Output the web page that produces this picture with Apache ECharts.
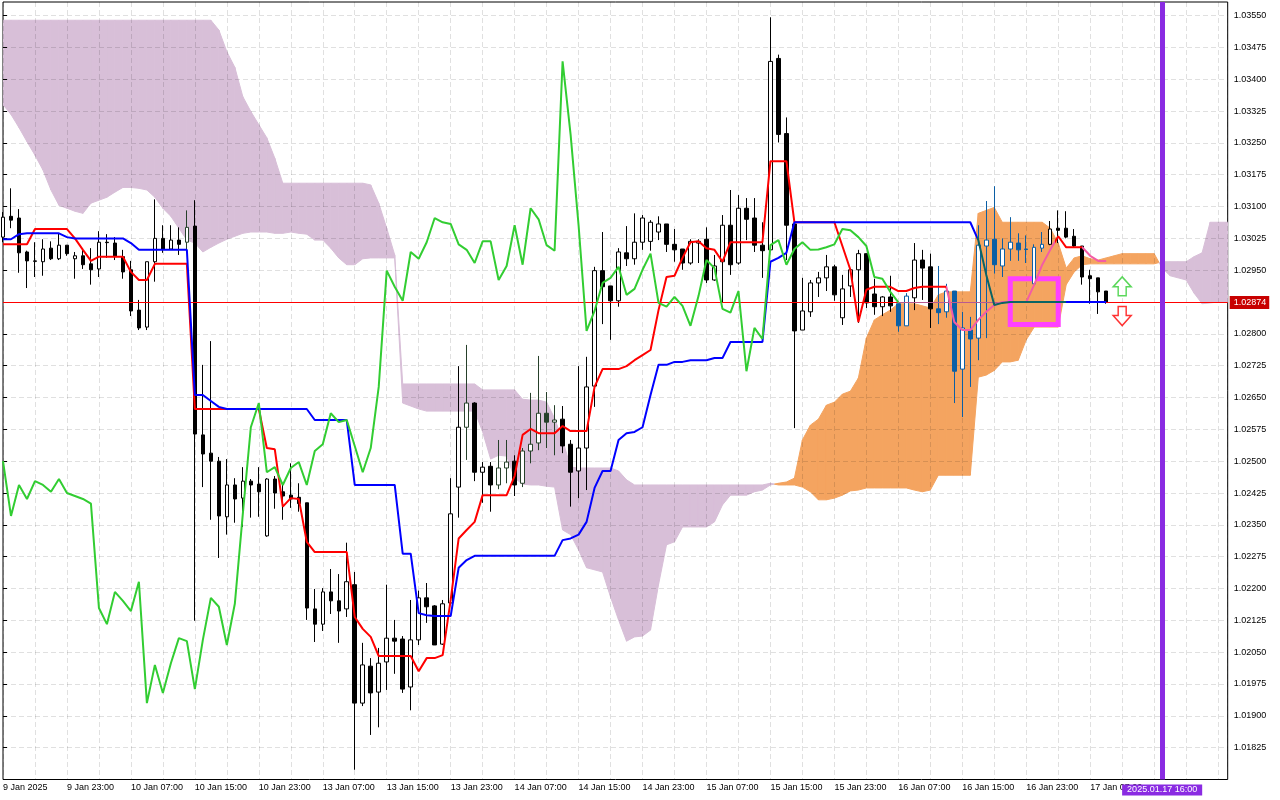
<!DOCTYPE html>
<html><head><meta charset="utf-8">
<style>html,body{margin:0;padding:0;background:#fff}#c{width:1280px;height:800px}</style>
<script src="https://cdn.jsdelivr.net/npm/echarts@6/dist/echarts.min.js"></script>
</head><body><div id="c"></div>
<script>
const xTickLabels=["9 Jan 2025","9 Jan 23:00","10 Jan 07:00","10 Jan 15:00","10 Jan 23:00","13 Jan 07:00","13 Jan 15:00","13 Jan 23:00","14 Jan 07:00","14 Jan 15:00","14 Jan 23:00","15 Jan 07:00","15 Jan 15:00","15 Jan 23:00","16 Jan 07:00","16 Jan 15:00","16 Jan 23:00","17 Jan 07:00"];
const yTicks=[1.03550,1.03475,1.03400,1.03325,1.03250,1.03175,1.03100,1.03025,1.02950,1.02875,1.02800,1.02725,1.02650,1.02575,1.02500,1.02425,1.02350,1.02275,1.02200,1.02125,1.02050,1.01975,1.01900,1.01825];
const opens=[1.03028,1.03077,1.03073,1.02993,1.02972,1.02970,1.03002,1.02977,1.03009,1.02977,
1.02984,1.02965,1.02953,1.03016,1.03014,1.02982,1.02951,1.02856,1.02816,1.02970,
1.03025,1.03000,1.03021,1.03016,1.03054,1.02562,1.02519,1.02500,1.02369,1.02444,
1.02413,1.02453,1.02446,1.02324,1.02458,1.02428,1.02420,1.02415,1.02402,1.02152,
1.02116,1.02192,1.02171,1.02152,1.02209,1.01930,1.02017,1.01956,1.02027,1.02083,
1.02081,1.01968,1.02079,1.02178,1.02159,1.02069,1.02166,1.02439,1.02580,1.02637,
1.02474,1.02488,1.02444,1.02484,1.02500,1.02448,1.02524,1.02543,1.02613,1.02592,
1.02599,1.02540,1.02477,1.02531,1.02677,1.02949,1.02913,1.02878,1.02991,1.02977,
1.03016,1.03018,1.03040,1.03059,1.03011,1.03000,1.02967,1.03014,1.03023,1.02927,
1.02970,1.03056,1.02967,1.03096,1.03073,1.03009,1.02998,1.03449,1.03272,1.03059,
1.02809,1.02852,1.02920,1.02932,1.02958,1.02838,1.02913,1.02951,1.02989,1.02894,
1.02864,1.02887,1.02871,1.02819,1.02885,1.02974,1.02958,1.02859,1.02852,1.02901,
1.02717,1.02809,1.02790,1.03007,1.03023,1.02960,1.03000,1.03014,1.03000,1.02918,
1.03002,1.03011,1.03049,1.03049,1.03030,1.03007,1.02937,1.02932,1.02901];
const closes=[1.03075,1.03068,1.02991,1.02972,1.02971,1.03000,1.02977,1.03009,1.02989,1.02984,
1.02963,1.02951,1.03016,1.03015,1.02982,1.02946,1.02854,1.02814,1.02970,1.03025,
1.03000,1.03021,1.03011,1.03051,1.02564,1.02517,1.02500,1.02371,1.02444,1.02411,
1.02453,1.02444,1.02428,1.02458,1.02425,1.02418,1.02411,1.02400,1.02154,1.02116,
1.02192,1.02171,1.02147,1.02216,1.01930,1.02020,1.01954,1.02024,1.02083,1.02076,
1.01963,1.02079,1.02178,1.02157,1.02067,1.02164,1.02376,1.02580,1.02637,1.02474,
1.02486,1.02444,1.02484,1.02498,1.02444,1.02524,1.02540,1.02613,1.02592,1.02597,
1.02536,1.02474,1.02531,1.02675,1.02949,1.02911,1.02878,1.02993,1.02977,1.03016,
1.03073,1.03063,1.03059,1.03011,1.02998,1.02967,1.03018,1.03018,1.02927,1.02960,
1.03056,1.02963,1.03096,1.03070,1.03009,1.02996,1.03442,1.03270,1.03056,1.02807,
1.02854,1.02920,1.02932,1.02958,1.02892,1.02906,1.02951,1.02989,1.02873,1.02864,
1.02887,1.02866,1.02819,1.02889,1.02974,1.02955,1.02859,1.02850,1.02901,1.02712,
1.02814,1.02788,1.03009,1.03021,1.02963,1.03000,1.03016,1.02998,1.02999,1.03004,
1.03011,1.03047,1.03044,1.03028,1.03007,1.02934,1.02930,1.02899,1.02874];
const lows=[1.03016,1.03049,1.02944,1.02908,1.02934,1.02937,1.02974,1.02974,1.02984,1.02930,
1.02953,1.02916,1.02934,1.02979,1.02974,1.02930,1.02842,1.02809,1.02809,1.02923,
1.02991,1.02998,1.02986,1.02998,1.02124,1.02439,1.02362,1.02272,1.02327,1.02355,
1.02345,1.02367,1.02369,1.02322,1.02388,1.02362,1.02390,1.02381,1.02126,1.02074,
1.02100,1.02140,1.02072,1.02133,1.01773,1.01923,1.01855,1.01873,1.01961,1.01999,
1.01954,1.01913,1.02067,1.02119,1.02067,1.02067,1.02161,1.02367,1.02503,1.02453,
1.02402,1.02381,1.02434,1.02448,1.02418,1.02439,1.02495,1.02526,1.02531,1.02514,
1.02519,1.02393,1.02413,1.02432,1.02628,1.02823,1.02786,1.02864,1.02960,1.02963,
1.02998,1.02996,1.03021,1.02993,1.02970,1.02951,1.02963,1.02967,1.02920,1.02925,
1.02873,1.02939,1.02963,1.03021,1.02993,1.02932,1.02998,1.03251,1.02974,1.02578,
1.02809,1.02840,1.02887,1.02901,1.02878,1.02821,1.02887,1.02826,1.02861,1.02845,
1.02842,1.02852,1.02805,1.02819,1.02856,1.02880,1.02814,1.02823,1.02838,1.02637,
1.02604,1.02675,1.02738,1.02790,1.02942,1.02934,1.02972,1.02972,1.02967,1.02918,
1.02993,1.03009,1.03014,1.03025,1.03004,1.02916,1.02871,1.02847,1.02871];
const highs=[1.03087,1.03143,1.03094,1.02996,1.03016,1.03023,1.03018,1.03037,1.03009,1.02993,
1.03002,1.03002,1.03042,1.03035,1.03028,1.02998,1.02972,1.02880,1.02970,1.03117,
1.03056,1.03056,1.03051,1.03091,1.03115,1.02727,1.02783,1.02510,1.02505,1.02460,
1.02486,1.02458,1.02486,1.02460,1.02465,1.02448,1.02495,1.02448,1.02402,1.02199,
1.02201,1.02246,1.02234,1.02308,1.02239,1.02072,1.02036,1.02060,1.02209,1.02126,
1.02088,1.02173,1.02195,1.02213,1.02161,1.02173,1.02460,1.02724,1.02774,1.02639,
1.02498,1.02498,1.02550,1.02550,1.02514,1.02531,1.02661,1.02748,1.02663,1.02632,
1.02630,1.02550,1.02724,1.02746,1.02958,1.03040,1.02913,1.03002,1.03054,1.03084,
1.03080,1.03068,1.03077,1.03059,1.03047,1.03000,1.03023,1.03023,1.03051,1.02986,
1.03080,1.03139,1.03127,1.03120,1.03120,1.03063,1.03546,1.03458,1.03310,1.03059,
1.02932,1.02927,1.02946,1.02986,1.02963,1.02939,1.02951,1.02998,1.02989,1.02930,
1.02889,1.02937,1.02871,1.02896,1.03014,1.02998,1.02989,1.02960,1.02918,1.02901,
1.02852,1.02840,1.03056,1.03113,1.03148,1.03025,1.03075,1.03037,1.03032,1.03011,
1.03040,1.03066,1.03091,1.03089,1.03047,1.03007,1.02951,1.02932,1.02901];
const tenkan=[1.03011,1.03011,1.03011,1.03011,1.03047,1.03047,1.03047,1.03047,1.03047,1.03025,
1.02998,1.02972,1.02982,1.02982,1.02982,1.02982,1.02946,1.02927,1.02927,1.02965,
1.02965,1.02965,1.02965,1.02965,1.02623,1.02623,1.02623,1.02623,1.02623,1.02623,
1.02623,1.02623,1.02623,1.02531,1.02528,1.02393,1.02413,1.02411,1.02310,1.02286,
1.02286,1.02286,1.02286,1.02286,1.02133,1.02105,1.02086,1.02041,1.02041,1.02041,
1.02041,1.02041,1.02005,1.02036,1.02036,1.02043,1.02173,1.02318,1.02338,1.02357,
1.02420,1.02420,1.02420,1.02420,1.02465,1.02562,1.02576,1.02566,1.02566,1.02566,
1.02583,1.02571,1.02571,1.02571,1.02675,1.02717,1.02717,1.02717,1.02724,1.02738,
1.02750,1.02762,1.02856,1.02934,1.02937,1.02979,1.03016,1.03018,1.03002,1.02998,
1.02970,1.03016,1.03016,1.03016,1.03016,1.03016,1.03207,1.03207,1.03207,1.03063,
1.03063,1.03063,1.03063,1.03063,1.03063,1.03007,1.02951,1.02828,1.02904,1.02911,
1.02911,1.02911,1.02901,1.02901,1.02908,1.02911,1.02911,1.02911,1.02911,1.02828,
1.02809,1.02809,1.02833,1.02852,1.02868,1.02875,1.02875,1.02875,1.02875,1.02916,
1.02963,1.02998,1.03030,1.03004,1.03004,1.03004,1.02984,1.02972,1.02972];
const kijun=[1.03023,1.03023,1.03035,1.03037,1.03037,1.03037,1.03037,1.03037,1.03028,1.03025,
1.03025,1.03025,1.03025,1.03025,1.03025,1.03025,1.03014,1.02998,1.02998,1.02998,
1.02998,1.02998,1.02998,1.02998,1.02656,1.02656,1.02642,1.02628,1.02623,1.02623,
1.02623,1.02623,1.02623,1.02623,1.02623,1.02623,1.02623,1.02623,1.02623,1.02597,
1.02597,1.02597,1.02597,1.02597,1.02444,1.02444,1.02444,1.02444,1.02444,1.02444,
1.02282,1.02282,1.02142,1.02137,1.02135,1.02135,1.02135,1.02249,1.02267,1.02277,
1.02277,1.02277,1.02277,1.02277,1.02277,1.02277,1.02277,1.02277,1.02277,1.02277,
1.02314,1.02318,1.02327,1.02357,1.02437,1.02477,1.02477,1.02550,1.02566,1.02569,
1.02580,1.02656,1.02727,1.02727,1.02734,1.02734,1.02738,1.02738,1.02738,1.02743,
1.02743,1.02781,1.02781,1.02781,1.02781,1.02781,1.02970,1.02979,1.02991,1.03063,
1.03063,1.03063,1.03063,1.03063,1.03063,1.03063,1.03063,1.03063,1.03063,1.03063,
1.03063,1.03063,1.03063,1.03063,1.03063,1.03063,1.03063,1.03063,1.03063,1.03063,
1.03063,1.03063,1.03021,1.02939,1.02868,1.02873,1.02875,1.02875,1.02875,1.02875,
1.02875,1.02875,1.02875,1.02875,1.02875,1.02875,1.02875,1.02875,1.02875];
const chikou=[1.02500,1.02371,1.02444,1.02411,
1.02453,1.02444,1.02428,1.02458,1.02425,1.02418,1.02411,1.02400,1.02154,1.02116,
1.02192,1.02171,1.02147,1.02216,1.01930,1.02020,1.01954,1.02024,1.02083,1.02076,
1.01963,1.02079,1.02178,1.02157,1.02067,1.02164,1.02376,1.02580,1.02637,1.02474,
1.02486,1.02444,1.02484,1.02498,1.02444,1.02524,1.02540,1.02613,1.02592,1.02597,
1.02536,1.02474,1.02531,1.02675,1.02949,1.02911,1.02878,1.02993,1.02977,1.03016,
1.03073,1.03063,1.03059,1.03011,1.02998,1.02967,1.03018,1.03018,1.02927,1.02960,
1.03056,1.02963,1.03096,1.03070,1.03009,1.02996,1.03442,1.03270,1.03056,1.02807,
1.02854,1.02920,1.02932,1.02958,1.02892,1.02906,1.02951,1.02989,1.02873,1.02864,
1.02887,1.02866,1.02819,1.02889,1.02974,1.02955,1.02859,1.02850,1.02901,1.02712,
1.02814,1.02788,1.03009,1.03021,1.02963,1.03000,1.03016,1.02998,1.02999,1.03004,
1.03011,1.03047,1.03044,1.03028,1.03007,1.02934,1.02930,1.02899,1.02874];
const senkouA=[1.03340,1.03317,1.03286,1.03253,1.03221,1.03186,1.03139,1.03103,1.03096,1.03089,
1.03084,1.03108,1.03115,1.03122,1.03134,1.03145,1.03145,1.03143,1.03139,1.03122,
1.03096,1.03077,1.03049,1.03021,1.03014,1.02993,1.03004,1.03014,1.03023,1.03030,
1.03037,1.03040,1.03040,1.03040,1.03037,1.03037,1.03040,1.03037,1.03035,1.03021,
1.03021,1.03002,1.02979,1.02963,1.02963,1.02977,1.02979,1.02979,1.02979,1.02979,
1.02637,1.02630,1.02623,1.02618,1.02618,1.02618,1.02618,1.02618,1.02618,1.02618,
1.02569,1.02505,1.02514,1.02512,1.02460,1.02446,1.02444,1.02444,1.02441,1.02439,
1.02338,1.02327,1.02291,1.02249,1.02244,1.02239,1.02180,1.02126,1.02076,1.02086,
1.02088,1.02102,1.02209,1.02303,1.02310,1.02345,1.02345,1.02345,1.02345,1.02357,
1.02397,1.02420,1.02420,1.02420,1.02428,1.02432,1.02444,1.02448,1.02451,1.02460,
1.02550,1.02585,1.02599,1.02632,1.02639,1.02658,1.02665,1.02696,1.02790,1.02833,
1.02845,1.02856,1.02871,1.02871,1.02871,1.02866,1.02861,1.02892,1.02899,1.02899,
1.02899,1.02899,1.03084,1.03091,1.03098,1.03063,1.03063,1.03063,1.03063,1.03063,
1.03063,1.03049,1.03014,1.02955,1.02979,1.02984,1.02977,1.02974,1.02979,1.02984,
1.02989,1.02989,1.02989,1.02989,1.02989,1.02955,1.02937,1.02932,1.02927,1.02896,
1.02871,1.02873,1.02875,1.02875,1.02875];
const senkouB=[1.03539,1.03539,1.03539,1.03539,1.03539,1.03539,1.03539,1.03539,1.03539,1.03539,
1.03539,1.03539,1.03539,1.03539,1.03539,1.03539,1.03539,1.03539,1.03539,1.03539,
1.03539,1.03539,1.03539,1.03539,1.03539,1.03539,1.03539,1.03516,1.03465,1.03428,
1.03359,1.03324,1.03293,1.03262,1.03214,1.03155,1.03155,1.03155,1.03155,1.03155,
1.03155,1.03155,1.03155,1.03155,1.03155,1.03155,1.03151,1.03108,1.03049,1.02986,
1.02682,1.02682,1.02682,1.02682,1.02682,1.02682,1.02682,1.02682,1.02682,1.02682,
1.02668,1.02668,1.02668,1.02668,1.02668,1.02646,1.02644,1.02644,1.02639,1.02601,
1.02550,1.02486,1.02484,1.02484,1.02484,1.02484,1.02484,1.02477,1.02456,1.02444,
1.02444,1.02444,1.02444,1.02444,1.02444,1.02444,1.02444,1.02444,1.02444,1.02444,
1.02444,1.02444,1.02444,1.02444,1.02444,1.02444,1.02448,1.02444,1.02444,1.02444,
1.02439,1.02428,1.02409,1.02409,1.02413,1.02420,1.02430,1.02432,1.02437,1.02437,
1.02437,1.02437,1.02437,1.02437,1.02432,1.02428,1.02432,1.02467,1.02467,1.02467,
1.02467,1.02467,1.02698,1.02703,1.02714,1.02734,1.02734,1.02738,1.02786,1.02816,
1.02816,1.02816,1.02816,1.02916,1.02946,1.02963,1.02965,1.02965,1.02965,1.02965,
1.02965,1.02965,1.02965,1.02965,1.02965,1.02970,1.02970,1.02970,1.02970,1.02982,
1.02991,1.03063,1.03063,1.03063,1.03063];
const tintOnOrange=[112,113,117,118,119,120,121,122,123,124,125,126,127,128,129,130];
const tintOnPurple=[23,58,62,63,65,66,67,68,69];
const bidPrice=1.02874;
const rectPrices=[1.02930,1.02822];
const rectBars=[126,132];
const arrowUp=[[140,1.02912]];
const arrowDown=[[140,1.02842]];
const cursorBar=145;
const cursorLabel="2025.01.17 16:00";

const FONT="Liberation Sans";
const pts=a=>a.map((v,i)=>[i,v]);
const candles=opens.map((o,i)=>{
  const item={value:[i,o,closes[i],lows[i],highs[i]]};
  const c=tintOnOrange.includes(i)?'#0b5fa5':tintOnPurple.includes(i)?'#26402a':null;
  if(c) item.itemStyle={color0:c,borderColor:c,borderColor0:c};
  return item;
});
function renderKumo(params,api){
  const i=api.value(0);
  if(i>=senkouA.length-1) return null;
  const a0=senkouA[i],b0=senkouB[i],a1=senkouA[i+1],b1=senkouB[i+1];
  const col=(d)=>d>0?'#f4a460':'#d8bfd8';
  const poly=(p,c)=>({type:'polygon',shape:{points:p.map(q=>api.coord(q))},style:{fill:c,stroke:c,lineWidth:1}});
  const d0=a0-b0,d1=a1-b1;
  const children=[];
  if(d0*d1<0){
    const t=d0/(d0-d1),m=[i+t,a0+t*(a1-a0)];
    children.push(poly([[i,a0],m,[i,b0]],col(d0)));
    children.push(poly([m,[i+1,a1],[i+1,b1]],col(d1)));
  }else{
    children.push(poly([[i,a0],[i+1,a1],[i+1,b1],[i,b0]],col(d0)));
  }
  return {type:'group',children};
}
const ARROW_UP='path://M9 0L18 10L13 10L13 19L5 19L5 10L0 10Z';
const ARROW_DOWN='path://M5 0L13 0L13 9L18 9L9 19L0 9L5 9Z';
const grid='rgba(0,0,0,0.12)';
const chart=echarts.init(document.getElementById('c'),null,{renderer:'canvas'});
chart.setOption({
  animation:false,
  backgroundColor:'#fff',
  textStyle:{fontFamily:FONT},
  grid:{show:true,left:2.3,right:52.3,top:2,height:777.5,borderColor:'#000',borderWidth:1,backgroundColor:'transparent',containLabel:false},
  xAxis:{type:'value',min:0,max:153.2,interval:4,z:1.5,
    axisLine:{show:false},axisTick:{show:false},
    splitLine:{show:true,lineStyle:{color:grid,type:[5,3],width:1}},
    axisLabel:{show:true,align:'left',margin:4,fontSize:9,color:'#000',fontFamily:FONT,hideOverlap:false,
      formatter:v=>(v%8===0&&xTickLabels[v/8])?xTickLabels[v/8]:''}},
  yAxis:{type:'value',position:'right',min:1.0175,max:1.03582,interval:0.00075,z:1.5,scale:true,
    axisLine:{show:false},
    axisTick:{show:true,length:4,lineStyle:{color:'#000'},customValues:yTicks},
    splitLine:{show:true,lineStyle:{color:grid,type:[5,3],width:1}},
    axisLabel:{show:true,margin:6,fontSize:9,color:'#000',fontFamily:FONT,customValues:yTicks,
      formatter:v=>v.toFixed(5)}},
  visualMap:[
    {show:false,type:'piecewise',seriesIndex:2,dimension:0,pieces:[
      {gte:-1,lt:118,color:'#ff0000'},{gte:118,lt:131.6,color:'#f35ca5'},{gte:131.6,lt:135,color:'#ff0000'},{gte:135,lte:200,color:'#f35ca5'}]},
    {show:false,type:'piecewise',seriesIndex:3,dimension:0,pieces:[
      {gte:-1,lt:121.8,color:'#0000ff'},{gte:121.8,lt:133,color:'#0b6464'},{gte:133,lte:200,color:'#0000ff'}]}
  ],
  series:[
    {type:'custom',name:'Kumo',z:1,clip:true,silent:true,renderItem:renderKumo,
      data:senkouA.map((v,i)=>[i,v]),encode:{x:0,y:1},
      markArea:{silent:true,z:1.6,itemStyle:{color:'rgba(0,0,0,0)',borderColor:'#ff40ff',borderWidth:5},
        data:[[{coord:[rectBars[0],rectPrices[0]]},{coord:[rectBars[1],rectPrices[1]]}]]}},
    {type:'candlestick',name:'Price',z:3,barWidth:4,data:candles,clip:true,silent:true,
      itemStyle:{color:'#ffffff',color0:'#000000',borderColor:'#000000',borderColor0:'#000000',borderWidth:1}},
    {type:'line',name:'Tenkan',z:4,data:pts(tenkan),showSymbol:false,silent:true,lineStyle:{width:2}},
    {type:'line',name:'Kijun',z:5,data:pts(kijun),showSymbol:false,silent:true,lineStyle:{width:2}},
    {type:'line',name:'Chikou',z:6,data:pts(chikou),showSymbol:false,silent:true,lineStyle:{width:2,color:'#32cd32'}},
    {type:'line',name:'Levels',z:3.5,data:[],silent:true,
      markLine:{silent:true,symbol:'none',z:3.5,animation:false,
        data:[
          [{coord:[0,bidPrice],lineStyle:{color:'#ff0000',width:1,type:'solid'},label:{show:false}},{coord:[112,bidPrice]}],
          [{coord:[112,bidPrice],lineStyle:{color:'#b85a90',width:1,type:'solid'},label:{show:false}},{coord:[133,bidPrice]}],
          [{coord:[133,bidPrice],lineStyle:{color:'#ff0000',width:1,type:'solid'},
            label:{show:true,position:'end',distance:2,formatter:bidPrice.toFixed(5),color:'#fff',fontFamily:FONT,fontSize:9,backgroundColor:'#c80000',padding:[2,3,2,4]}},
           {coord:[153.2,bidPrice]}]
        ]}},
    {type:'line',name:'Cursor',z:7,data:[],silent:true,
      markLine:{silent:true,symbol:'none',z:7,animation:false,
        data:[{xAxis:cursorBar,lineStyle:{color:'#8a2be2',width:5,type:'solid'},
          label:{show:true,position:'start',distance:5,formatter:cursorLabel,color:'#fff',fontFamily:FONT,fontSize:9,backgroundColor:'#8a2be2',padding:[1,5,1,5]}}]}},
    {type:'scatter',name:'Up',z:8,silent:true,data:arrowUp,symbol:ARROW_UP,symbolSize:[18,19],itemStyle:{color:'#fff',borderColor:'#32cd32',borderWidth:1.5}},
    {type:'scatter',name:'Down',z:8,silent:true,data:arrowDown,symbol:ARROW_DOWN,symbolSize:[18,19],itemStyle:{color:'#fff',borderColor:'#ff0000',borderWidth:1.5}}
  ]
});
</script></body></html>
